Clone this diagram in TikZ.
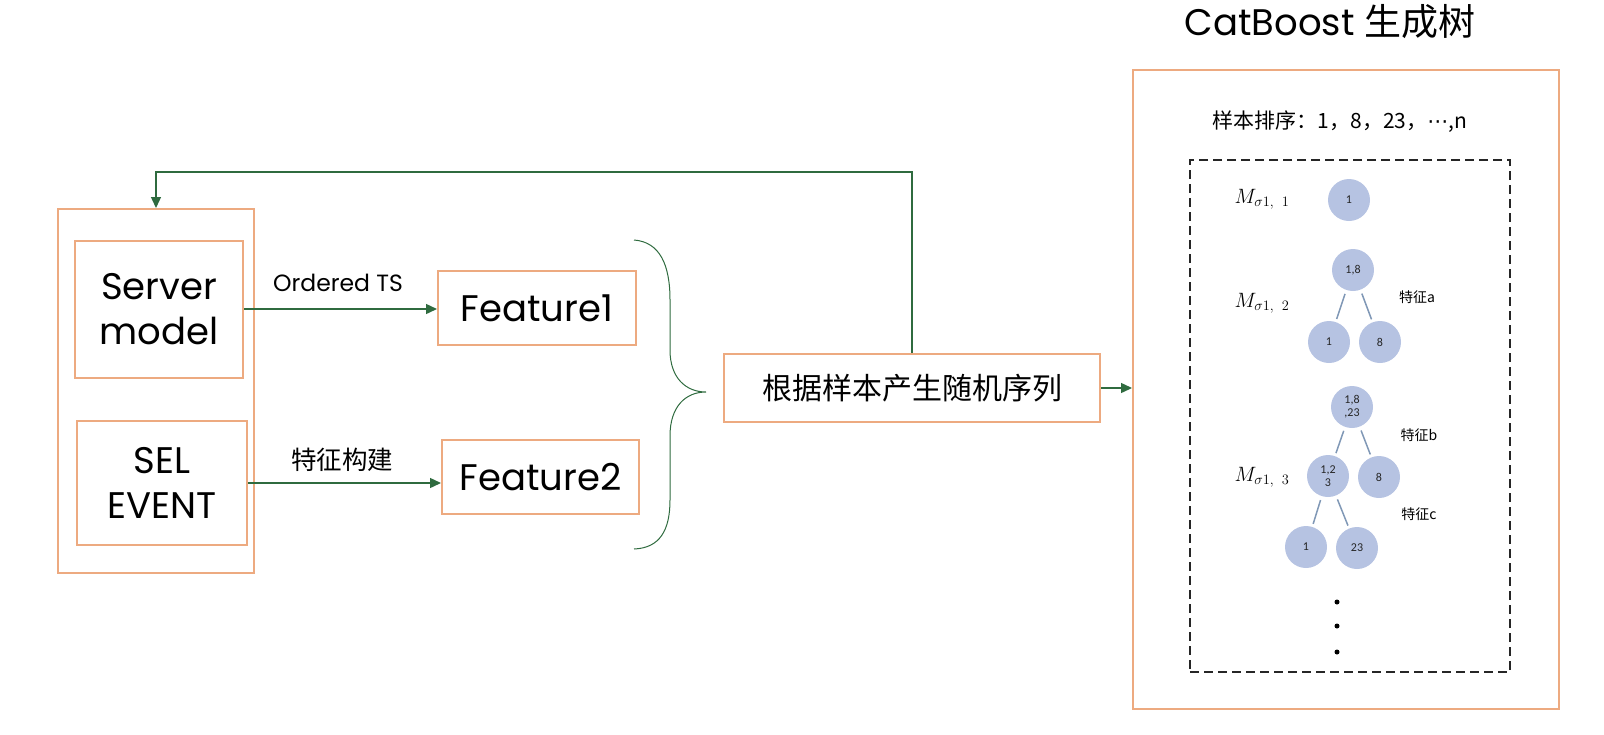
\documentclass[tikz,border=0pt]{standalone}
\usepackage{fontspec}
\setmainfont{Poppins}
\newfontfamily\cjk{Noto Sans CJK SC}
\newfontfamily\carl{Carlito}
\newfontfamily\dejavu{DejaVu Sans}
\usetikzlibrary{arrows.meta}
\definecolor{boxorange}{HTML}{EDAA80}
\definecolor{arrgreen}{HTML}{2F6B3F}
\definecolor{nodeblue}{HTML}{B6C3E2}
\definecolor{edgeblue}{HTML}{8098B6}
\begin{document}
\begin{tikzpicture}[x=1pt,y=-1pt,
  obox/.style={draw=boxorange, line width=2pt, rectangle, inner sep=0pt},
  garrow/.style={draw=arrgreen, line width=1.4pt, -{Triangle[length=11pt,width=10pt]}},
  gline/.style={draw=arrgreen, line width=1.2pt},
  bigtxt/.style={font=\fontsize{37}{45}\selectfont, align=center},
  tnode/.style={circle, fill=nodeblue, minimum size=42pt, inner sep=0pt, font=\carl\fontsize{12}{13}\selectfont, align=center, text=black!85},
  tedge/.style={draw=edgeblue, line width=1.5pt, shorten <=4pt, shorten >=3pt},
  featlbl/.style={font=\cjk\fontsize{14}{16}\selectfont},
  mlbl/.style={font=\fontsize{20}{22}\selectfont},
  tdot/.style={circle, fill=black, minimum size=5pt, inner sep=0pt}
]
\useasboundingbox (0,0) rectangle (1604,734);

% left group
\node[obox, minimum width=196pt, minimum height=364pt] (outer) at (156,391) {};
\node[obox, minimum width=168pt, minimum height=137pt, bigtxt] (server) at (159,309) {Server\\model};
\node[obox, minimum width=170pt, minimum height=124pt, bigtxt] (sel) at (162,483) {SEL\\EVENT};
\node[obox, minimum width=198pt, minimum height=74pt, bigtxt] (feat1) at (537,308) {Feature1};
\node[obox, minimum width=197pt, minimum height=74pt, bigtxt] (feat2) at (540.5,477) {Feature2};
\node[font=\fontsize{23.5}{26}\selectfont] (lblts) at (338,283) {Ordered TS};
\node[font=\cjk\fontsize{25.5}{28}\selectfont] (lblfc) at (342,460) {特征构建};

\draw[garrow] (server.east) -- (server.east -| feat1.west);
\draw[garrow] (sel.east) -- (sel.east -| feat2.west);

% brace
\draw[gline, line width=1pt] (634,240) .. controls (660,242) and (670,265) .. (670,300) -- (670,350)
  .. controls (670,378) and (686,392) .. (706,392)
  .. controls (686,392) and (670,406) .. (670,436) -- (670,500)
  .. controls (670,530) and (660,548) .. (634,549);

% random sequence box
\node[obox, minimum width=376pt, minimum height=68pt, font=\cjk\fontsize{30}{32}\selectfont] (rand) at (912,388) {根据样本产生随机序列};

% feedback
\coordinate (fbtop) at (0,172);
\draw[garrow] (rand.north) |- (outer.north |- fbtop) -- (outer.north);

% right box
\node[font=\fontsize{37}{40}\selectfont] (title) at (1330,22) {CatBoost {\cjk 生成树}};
\node[obox, minimum width=426pt, minimum height=639pt] (cat) at (1346,389.5) {};
\draw[garrow] (rand.east) -- (rand.east -| cat.west);

\node[font=\cjk\fontsize{21}{23}\selectfont] (order) at (1340,122) {样本排序：1，8，23，{\dejavu ⋯},n};
\node[draw=black!85, dashed, dash pattern=on 9pt off 5pt, line width=1.4pt, minimum width=320pt, minimum height=512pt] (dbox) at (1350,416) {};

% M labels
\node[mlbl] (m1) at (1262,199) {$M_{\sigma 1,\;\;1}$};
\node[mlbl] (m2) at (1262,303) {$M_{\sigma 1,\;\;2}$};
\node[mlbl] (m3) at (1262,477) {$M_{\sigma 1,\;\;3}$};

% tree level 1
\node[tnode] (a1) at (1349,200) {1};
% tree level 2
\node[tnode] (b0) at (1353,270) {1,8};
\node[tnode] (b1) at (1329,342) {1};
\node[tnode] (b2) at (1380,342) {8};
\draw[tedge] (b0) -- (b1);
\draw[tedge] (b0) -- (b2);
\node[featlbl] (fa) at (1417,297) {特征a};
% tree level 3
\node[tnode] (c0) at (1352,407) {1,8\\,23};
\node[tnode] (c1) at (1328,476) {1,2\\3};
\node[tnode] (c2) at (1379,477) {8};
\node[tnode] (c3) at (1306,547) {1};
\node[tnode] (c4) at (1357,548) {23};
\draw[tedge] (c0) -- (c1);
\draw[tedge] (c0) -- (c2);
\draw[tedge] (c1) -- (c3);
\draw[tedge] (c1) -- (c4);
\node[featlbl] (fb) at (1419,435) {特征b};
\node[featlbl] (fc) at (1419,514) {特征c};

\node[tdot] (d1) at (1337,602) {};
\node[tdot] (d2) at (1337,626) {};
\node[tdot] (d3) at (1337,652) {};
\end{tikzpicture}
\end{document}
